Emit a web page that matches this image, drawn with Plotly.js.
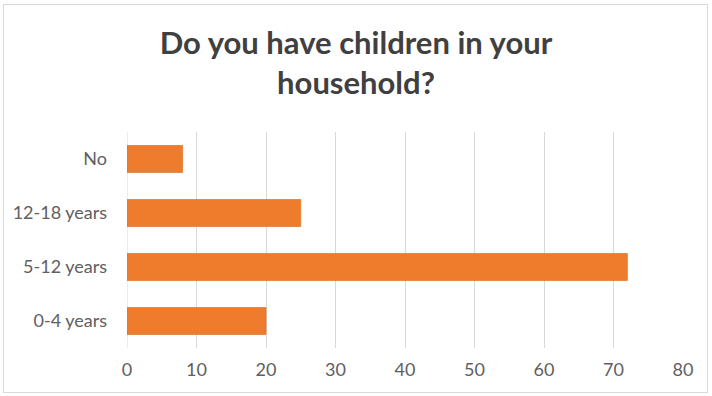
<!DOCTYPE html>
<html>
<head>
<meta charset="utf-8">
<script src="https://cdn.plot.ly/plotly-3.0.1.min.js"></script>
<style>
  html, body { margin: 0; padding: 0; background: #ffffff; }
  #wrap { position: relative; width: 712px; height: 396px; }
  #chart { position: absolute; left: 0; top: 0; width: 712px; height: 396px; }
  #frame { position: absolute; left: 3px; top: 4px; width: 705px; height: 389px;
           border: 1px solid #d9d9d9; box-sizing: border-box; pointer-events: none; }
</style>
</head>
<body>
<div id="wrap">
  <div id="chart"></div>
  <div id="frame"></div>
</div>
<script>
// Data (bottom-to-top order as drawn on the category axis)
const categories = ["0-4 years", "5-12 years", "12-18 years", "No"];
const counts = [20, 72, 25, 8];
const xTickValues = [0, 10, 20, 30, 40, 50, 60, 70, 80];
const chartTitle = "Do you have children in your<br>household?";

const trace = {
  type: "bar",
  orientation: "h",
  x: counts,
  y: categories,
  width: 0.5,
  marker: {
    color: "#EF7B2D",
    line: { color: "#D8681F", width: 0.6 }
  },
  hoverinfo: "x+y"
};

const tickFont = { family: "Lato, 'Open Sans', sans-serif", size: 18, color: "#606060" };

const layout = {
  width: 712,
  height: 396,
  paper_bgcolor: "#ffffff",
  plot_bgcolor: "#ffffff",
  margin: { l: 127, r: 29, t: 132, b: 48 },
  showlegend: false,
  title: {
    text: chartTitle,
    x: 0.5,
    xref: "container",
    xanchor: "center",
    y: 0.864,
    yref: "container",
    yanchor: "top",
    font: { family: "Lato, 'Open Sans', sans-serif", size: 31, weight: 700, color: "#404040" }
  },
  xaxis: {
    range: [0, 80],
    tickvals: xTickValues,
    ticktext: xTickValues.map(String),
    showgrid: true,
    gridcolor: "#d9d9d9",
    gridwidth: 1,
    zeroline: false,
    showline: false,
    ticks: "",
    ticklabelstandoff: 9,
    tickfont: tickFont,
    fixedrange: true
  },
  yaxis: {
    type: "category",
    categoryorder: "array",
    categoryarray: categories,
    showgrid: false,
    zeroline: false,
    showline: false,
    ticks: "",
    ticklabelstandoff: 19,
    tickfont: tickFont,
    fixedrange: true
  },
  shapes: [{
    type: "line", xref: "x", yref: "paper",
    x0: 0, x1: 0, y0: 0, y1: 1,
    line: { color: "#d9d9d9", width: 1 },
    layer: "below"
  }]
};

Plotly.newPlot("chart", [trace], layout, { displayModeBar: false, staticPlot: true });
</script>
</body>
</html>
